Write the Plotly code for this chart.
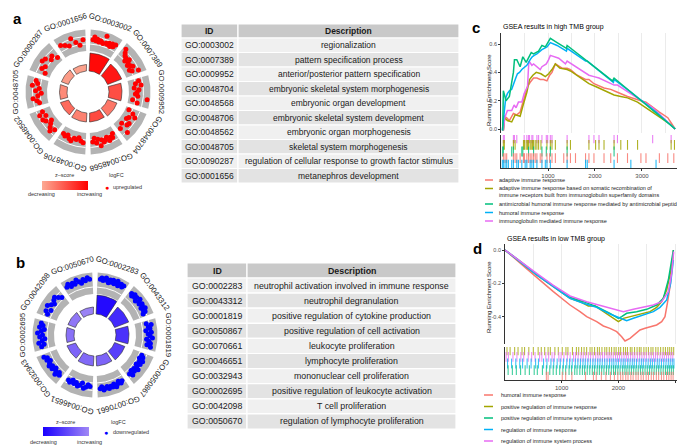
import math
import plotly.graph_objects as go
from plotly.colors import sample_colorscale

W, H = 677, 446
FONT = "Liberation Sans, Arial, Helvetica, sans-serif"

# ---------------- DATA ----------------
a_terms = ["GO:0003002", "GO:0007389", "GO:0009952", "GO:0048704", "GO:0048568",
           "GO:0048706", "GO:0048562", "GO:0048705", "GO:0090287", "GO:0001656"]
a_desc = ["regionalization", "pattern specification process",
          "anterior/posterior pattern specification",
          "embryonic skeletal system morphogenesis", "embryonic organ development",
          "embryonic skeletal system development", "embryonic organ morphogenesis",
          "skeletal system morphogenesis",
          "regulation of cellular response to growth factor stimulus",
          "metanephros development"]
a_count = [36, 30, 26, 20, 18, 18, 17, 15, 15, 13]
a_zscore = [6.0, 5.7, 4.5, 3.6, 4.6, 3.4, 3.9, 3.2, 2.8, 2.7]
a_logfc = [
    [3.2, 4.0, 3.0, 3.5, 2.8, 3.3, 3.0, 2.7, 5.0, 3.1, 2.9, 3.4, 2.6, 3.6, 3.0, 3.8],
    [4.5, 3.6, 3.0, 2.8, 2.0, 3.2, 2.4, 1.8, 2.5, 3.0, 1.6, 2.2, 3.9],
    [3.0, 2.0, 3.5, 1.5, 2.8, 2.3, 1.8, 2.5, 5.2, 1.2, 2.6],
    [1.0, 2.5, 3.5, 2.0, 1.6, 3.0, 2.8, 1.4, 4.3, 2.2],
    [2.0, 3.0, 2.6, 3.4, 2.2, 2.8, 3.2, 2.4, 4.0, 2.0, 3.0, 1.6, 2.6],
    [2.8, 2.4, 1.6, 2.2, 2.0, 3.0, 2.6, 1.8, 2.4, 2.0],
    [2.6, 3.8, 3.0, 2.2, 1.4, 2.8, 3.4, 2.0, 3.6, 2.4],
    [2.4, 3.0, 4.0, 2.6, 1.6, 3.2, 2.2, 4.2, 2.8, 3.4],
    [1.6, 3.0, 2.4, 4.0, 3.6, 2.2, 2.8, 1.4],
    [3.6, 3.0, 2.4, 4.2, 2.8, 1.8, 3.2],
]

b_terms = ["GO:0002283", "GO:0043312", "GO:0001819", "GO:0050867", "GO:0070661",
           "GO:0046651", "GO:0032943", "GO:0002695", "GO:0042098", "GO:0050670"]
b_desc = ["neutrophil activation involved in immune response", "neutrophil degranulation",
          "positive regulation of cytokine production",
          "positive regulation of cell activation", "leukocyte proliferation",
          "lymphocyte proliferation", "mononuclear cell proliferation",
          "positive regulation of leukocyte activation", "T cell proliferation",
          "regulation of lymphocyte proliferation"]
b_count = [38, 30, 26, 22, 20, 20, 18, 16, 16, 14]
b_zscore = [-9.5, -8.0, -7.6, -7.0, -5.2, -5.0, -5.2, -4.6, -4.3, -3.8]
b_logfc = [
    [-4.2, -4.6, -3.9, -4.4, -4.8, -4.1, -3.6, -4.5, -4.0, -4.7, -3.8, -4.3, -4.9, -3.7, -4.2, -4.5, -3.9, -4.4],
    [-4.0, -3.5, -4.4, -3.8, -4.2, -3.3, -4.6, -3.9, -3.6, -4.3, -4.1, -3.4, -4.5, -3.7, -4.0, -3.2],
    [-3.2, -4.5, -3.6, -4.0, -2.8, -4.3, -3.4, -3.9, -4.6, -3.0, -3.7, -4.2, -3.3, -4.4],
    [-2.8, -3.4, -2.5, -3.8, -3.0, -3.6, -2.6, -3.2, -4.0, -2.9, -3.5, -2.7, -3.9, -3.1],
    [-3.4, -3.8, -3.0, -3.6, -4.2, -3.2, -3.9, -3.5, -4.0, -3.3, -3.7, -4.1, -3.1, -3.6],
    [-3.0, -2.6, -3.4, -3.8, -2.4, -3.2, -3.6, -2.8, -3.3, -2.5, -3.5, -3.1],
    [-3.6, -3.0, -4.2, -3.4, -2.8, -3.8, -3.2, -4.0, -3.5, -2.9, -3.7, -3.3, -4.1],
    [-3.8, -3.0, -4.4, -3.4, -2.6, -4.0, -3.2, -4.6, -3.6, -2.8, -4.2, -3.3, -3.9],
    [-3.0, -3.8, -2.6, -4.2, -3.4, -2.8, -3.6, -4.0, -3.2, -2.5],
    [-4.0, -4.6, -3.6, -4.3, -3.8, -4.8, -4.1, -3.5, -4.4, -3.9, -4.7, -4.2],
]

# GSEA high TMB (panel c)
c_names = ["adaptive immune response",
           "adaptive immune response based on somatic recombination of<br>immune receptors built from immunoglobulin superfamily domains",
           "antimicrobial humoral immune response mediated by antimicrobial peptide",
           "humoral immune response",
           "immunoglobulin mediated immune response"]
c_red_x = [50, 79, 121, 178, 264, 336, 407, 464, 514, 564, 621, 693, 764, 835, 907, 978, 1035, 1085, 1157, 1207, 1300, 1407, 1478, 1621, 1799, 1871, 1978, 2192, 2335, 2478, 2692, 2977, 3085, 3370, 3549, 3706]
c_red_y = [-0.01, 0.09, 0.08, 0.06, 0.11, 0.10, 0.12, 0.18, 0.23, 0.30, 0.33, 0.36, 0.36, 0.35, 0.35, 0.34, 0.38, 0.40, 0.46, 0.45, 0.43, 0.43, 0.42, 0.38, 0.35, 0.35, 0.32, 0.29, 0.28, 0.26, 0.23, 0.20, 0.19, 0.12, 0.08, 0.0]
c_olive_x = [50, 79, 136, 228, 300, 407, 464, 500, 550, 607, 678, 750, 850, 943, 1014, 1085, 1157, 1250, 1407, 1478, 1692, 1871, 2013, 2192, 2406, 2549, 2692, 2906, 3620, 3706]
c_olive_y = [-0.01, 0.08, 0.06, 0.05, 0.10, 0.09, 0.16, 0.20, 0.26, 0.35, 0.38, 0.40, 0.39, 0.37, 0.39, 0.42, 0.46, 0.43, 0.42, 0.41, 0.36, 0.32, 0.30, 0.27, 0.24, 0.23, 0.22, 0.19, 0.03, 0.0]
c_green_x = [36, 50, 107, 178, 228, 264, 286, 336, 407, 443, 464, 536, 586, 643, 693, 800, 871, 943, 978, 1050, 1193, 1392, 1407, 2371, 2406, 3706]
c_green_y = [-0.01, 0.27, 0.20, 0.23, 0.33, 0.40, 0.49, 0.49, 0.44, 0.48, 0.51, 0.47, 0.50, 0.54, 0.53, 0.55, 0.59, 0.58, 0.60, 0.64, 0.61, 0.57, 0.59, 0.34, 0.36, 0.0]
c_blue_x = [29, 64, 100, 136, 178, 228, 264, 314, 350, 393, 443, 514, 550, 621, 664, 707, 764, 871, 943, 978, 1050, 1193, 1392, 1407, 1799, 1835, 2392, 2406, 2763, 3299, 3706]
c_blue_y = [-0.01, 0.13, 0.22, 0.25, 0.27, 0.28, 0.32, 0.36, 0.39, 0.40, 0.42, 0.44, 0.45, 0.49, 0.51, 0.52, 0.53, 0.56, 0.57, 0.58, 0.61, 0.59, 0.55, 0.57, 0.48, 0.48, 0.33, 0.35, 0.26, 0.12, 0.0]
c_pink_x = [50, 79, 136, 228, 279, 321, 371, 443, 493, 536, 564, 593, 657, 693, 764, 835, 871, 964, 1014, 1050, 1228, 1371, 1407, 1871, 1978, 2085, 2406, 2478, 3227, 3620, 3706]
c_pink_y = [-0.01, 0.08, 0.13, 0.13, 0.17, 0.15, 0.19, 0.19, 0.25, 0.28, 0.30, 0.48, 0.45, 0.46, 0.44, 0.42, 0.44, 0.46, 0.49, 0.52, 0.50, 0.46, 0.48, 0.38, 0.37, 0.36, 0.31, 0.31, 0.15, 0.03, 0.0]
# hit positions (rug rows, top to bottom: pink, olive, green, red, blue)
c_rug_pink = [50, 71, 264, 286, 336, 493, 550, 586, 607, 657, 678, 764, 800, 871, 964, 993, 1050, 1085, 1407, 1871, 1978, 2085, 2406, 2478, 3227, 3620]
c_rug_olive = [50, 71, 264, 300, 478, 500, 536, 564, 586, 621, 643, 671, 693, 728, 764, 800, 850, 978, 1050, 1085, 1157, 1407, 1478, 1871, 2013, 2085, 2192, 2406, 2549, 2692, 2906, 3620, 3691]
c_rug_green = [36, 50, 228, 264, 443, 464, 586, 693, 871, 964, 1050, 1407, 2406]
c_rug_red = [50, 86, 121, 264, 300, 336, 407, 478, 500, 550, 586, 621, 657, 693, 728, 764, 835, 871, 978, 1035, 1085, 1157, 1335, 1407, 1478, 1585, 1799, 1871, 1978, 2192, 2335, 2478, 2692, 2977, 3085, 3370, 3549, 3677]
c_rug_blue = [29, 50, 86, 121, 157, 228, 264, 336, 371, 443, 514, 550, 621, 657, 693, 764, 871, 943, 978, 1050, 1407, 1799, 1835, 2406, 2763, 3299]

# GSEA low TMB (panel d)
d_names = ["humoral immune response", "positive regulation of immune response",
           "positive regulation of immune system process", "regulation of immune response",
           "regulation of immune system process"]
d_red_x = [0, 265, 559, 853, 1147, 1323, 1441, 1617, 1735, 1852, 1970, 2058, 2117, 2205, 2323, 2381, 2470, 2558, 2675, 2764, 2822, 2864, 2911, 2946, 2970]
d_red_y = [0.0, -0.08, -0.164, -0.25, -0.33, -0.37, -0.40, -0.43, -0.456, -0.47, -0.49, -0.52, -0.546, -0.53, -0.50, -0.48, -0.47, -0.46, -0.45, -0.43, -0.40, -0.32, -0.22, -0.10, 0.0]
d_olive_x = [0, 265, 559, 853, 1147, 1323, 1470, 1588, 1735, 1882, 2000, 2088, 2205, 2381, 2558, 2675, 2764, 2852, 2928, 2970]
d_olive_y = [0.0, -0.07, -0.15, -0.22, -0.29, -0.31, -0.336, -0.336, -0.37, -0.40, -0.43, -0.41, -0.40, -0.384, -0.37, -0.344, -0.31, -0.24, -0.12, -0.02]
d_green_x = [0, 265, 559, 853, 1147, 1382, 1617, 1852, 2000, 2058, 2146, 2323, 2499, 2675, 2793, 2881, 2940, 2970]
d_green_y = [0.0, -0.066, -0.146, -0.216, -0.284, -0.31, -0.34, -0.38, -0.41, -0.40, -0.38, -0.37, -0.356, -0.33, -0.29, -0.18, -0.07, 0.0]
d_blue_x = [0, 265, 559, 853, 1147, 1382, 1617, 1852, 2029, 2146, 2264, 2440, 2617, 2734, 2852, 2922, 2970]
d_blue_y = [0.0, -0.07, -0.15, -0.22, -0.29, -0.32, -0.344, -0.384, -0.41, -0.424, -0.41, -0.39, -0.37, -0.344, -0.30, -0.20, -0.06]
d_pink_x = [0, 265, 559, 853, 1147, 1441, 1735, 1970, 2088, 2264, 2440, 2617, 2764, 2881, 2940, 2975]
d_pink_y = [0.0, -0.064, -0.14, -0.212, -0.276, -0.31, -0.336, -0.36, -0.37, -0.356, -0.344, -0.33, -0.31, -0.25, -0.14, -0.01]
# rug rows, top to bottom: olive, pink, blue, green, red
d_rug_olive = [35, 90, 170, 230, 300, 345, 420, 500, 585, 640, 700, 760, 800, 880, 940, 1010, 1075, 1110, 1190, 1260, 1300, 1350, 1395, 1440, 1500, 1535, 1580, 1630, 1665, 1710, 1760, 1795, 1840, 1880, 1925, 1960, 2005, 2040, 2090, 2125, 2160, 2210, 2240, 2285, 2330, 2370, 2400, 2450, 2490, 2530, 2575, 2610, 2660, 2700, 2745, 2790, 2830, 2870, 2905, 2940, 2975]
d_rug_pink = [20, 60, 140, 210, 280, 330, 410, 470, 530, 610, 650, 720, 770, 830, 870, 950, 990, 1040, 1100, 1150, 1210, 1245, 1290, 1340, 1380, 1425, 1470, 1510, 1555, 1600, 1640, 1680, 1720, 1755, 1800, 1835, 1870, 1910, 1950, 1985, 2020, 2060, 2100, 2140, 2175, 2215, 2255, 2290, 2335, 2375, 2415, 2455, 2495, 2540, 2580, 2620, 2655, 2690, 2735, 2775, 2810, 2850, 2885, 2925, 2960]
d_rug_blue = [45, 115, 190, 260, 310, 390, 460, 540, 590, 680, 740, 810, 860, 920, 975, 1030, 1090, 1140, 1185, 1240, 1285, 1330, 1375, 1415, 1460, 1505, 1550, 1590, 1635, 1675, 1715, 1760, 1800, 1845, 1885, 1920, 1960, 2000, 2045, 2085, 2120, 2165, 2205, 2245, 2280, 2320, 2365, 2405, 2440, 2485, 2525, 2565, 2600, 2640, 2685, 2720, 2760, 2800, 2840, 2880, 2915, 2950, 2980]
d_rug_green = [55, 130, 200, 275, 355, 430, 515, 570, 660, 730, 790, 850, 905, 965, 1020, 1070, 1130, 1175, 1230, 1270, 1320, 1365, 1405, 1450, 1495, 1540, 1580, 1625, 1665, 1705, 1745, 1790, 1830, 1875, 1915, 1950, 1990, 2030, 2075, 2115, 2150, 2190, 2230, 2270, 2310, 2350, 2390, 2430, 2470, 2510, 2550, 2590, 2630, 2670, 2710, 2750, 2790, 2830, 2865, 2900, 2935, 2970]
d_rug_red = [730, 760, 1010, 1070, 1180, 1420, 1560, 1610, 1700, 1780, 1860, 1930, 1990, 2040, 2080, 2130, 2170, 2220, 2260, 2310, 2350, 2400, 2440, 2490, 2530, 2580, 2620, 2670, 2710, 2760, 2800, 2850, 2890, 2930, 2965]

C_RED, C_OLIVE, C_GREEN, C_BLUE, C_PINK = "#F8766D", "#A3A500", "#00BF7D", "#00B0F6", "#E76BF3"

# ---------------- helpers ----------------
def fx(px):
    return min(max(px / W, 0.0), 1.0)

def fy(py):
    return min(max(1 - py / H, 0.0), 1.0)

fig = go.Figure()
annotations = []
shapes = []

R_MAX = 66.0
RING_IN, RING_OUT = 41.0, 62.5
INNER_BASE = 21.0
LABEL_R = 73.5
LFC_SCALE = (RING_OUT - RING_IN) / 6.0


def text_at(px, py, txt, size, anchor="left", bold=False, angle=0, color="#111"):
    annotations.append(dict(x=px / W, y=1 - py / H, xref="paper", yref="paper",
                            text=("<b>%s</b>" % txt) if bold else txt, textangle=angle,
                            showarrow=False, xanchor=anchor, yanchor="middle", borderpad=0,
                            align="left" if anchor == "left" else "center",
                            font=dict(size=size, color=color, family=FONT)))


def wedge(t0, t1, r0, r1):
    xs, ys = [], []
    for k in range(21):
        t = math.radians(t0 + (t1 - t0) * k / 20)
        xs.append(r1 * math.sin(t)); ys.append(r1 * math.cos(t))
    for k in range(21):
        t = math.radians(t1 - (t1 - t0) * k / 20)
        xs.append(r0 * math.sin(t)); ys.append(r0 * math.cos(t))
    xs.append(xs[0]); ys.append(ys[0])
    return xs, ys


def circle_panel(ax, cx, cy, terms, counts, zs, lfcs, dot_color, cscale, cmin, cmax, cb_px, cb_py):
    xa, ya = "x" + ax, "y" + ax
    n = len(terms)
    step = 360.0 / n
    thetas = [step / 2 + step * i for i in range(n)]
    for t in thetas:
        xs, ys = wedge(t - 15.5, t + 15.5, RING_IN, RING_OUT)
        fig.add_trace(go.Scatter(x=xs, y=ys, mode="lines", fill="toself", fillcolor="#B3B3B3",
                                 line=dict(width=0, color="#B3B3B3"), xaxis=xa, yaxis=ya,
                                 hoverinfo="skip"))
    gx, gy = [], []
    for t in thetas:
        for rr in (48.0, 55.5):
            for k in range(32):
                a = math.radians(t - 15.5 + k)
                gx.append(rr * math.sin(a)); gy.append(rr * math.cos(a))
            gx.append(None); gy.append(None)
    fig.add_trace(go.Scatter(x=gx, y=gy, mode="lines", line=dict(color="white", width=1),
                             xaxis=xa, yaxis=ya, hoverinfo="skip"))
    dx, dy = [], []
    for t, vals in zip(thetas, lfcs):
        m = len(vals)
        for j, v in enumerate(vals):
            a = math.radians(t - 12.5 + 25.0 * j / (m - 1))
            rr = RING_IN + abs(v) * LFC_SCALE
            dx.append(rr * math.sin(a)); dy.append(rr * math.cos(a))
    fig.add_trace(go.Scatter(x=dx, y=dy, mode="markers", xaxis=xa, yaxis=ya, hoverinfo="skip",
                             marker=dict(color=dot_color, size=5, line=dict(width=0))))
    mid_r = [INNER_BASE + c * 0.25 for c in counts]
    fig.add_trace(go.Scatter(
        x=[r * math.sin(math.radians(t)) for r, t in zip(mid_r, thetas)],
        y=[r * math.cos(math.radians(t)) for r, t in zip(mid_r, thetas)],
        mode="markers", xaxis=xa, yaxis=ya, hoverinfo="skip",
        marker=dict(size=1, color=zs, colorscale=cscale, cmin=cmin, cmax=cmax, showscale=True,
                    colorbar=dict(orientation="h", x=fx(cb_px), xanchor="left", y=fy(cb_py),
                                  yanchor="top", len=46, lenmode="pixels", thickness=9,
                                  thicknessmode="pixels", outlinewidth=0, showticklabels=False,
                                  ticks="", xpad=0, ypad=0, title=dict(text="")))))
    cols = sample_colorscale(cscale, [(z - cmin) / (cmax - cmin) for z in zs])
    for t, c, col in zip(thetas, counts, cols):
        xs, ys = wedge(t - 15, t + 15, INNER_BASE, INNER_BASE + c * 0.5)
        fig.add_trace(go.Scatter(x=xs, y=ys, mode="lines", fill="toself", fillcolor=col,
                                 line=dict(width=0.6, color="#2a2a2a"), xaxis=xa, yaxis=ya,
                                 hoverinfo="skip"))
    fig.update_layout(**{
        "xaxis" + ax: dict(domain=[fx(cx - R_MAX), fx(cx + R_MAX)], range=[-R_MAX, R_MAX],
                           visible=False, anchor="y" + ax),
        "yaxis" + ax: dict(domain=[fy(cy + R_MAX), fy(cy - R_MAX)], range=[-R_MAX, R_MAX],
                           visible=False, anchor="x" + ax)})
    for t, term in zip(thetas, terms):
        rad = math.radians(t)
        px = cx + LABEL_R * math.sin(rad)
        py = cy - LABEL_R * math.cos(rad)
        ang = t if t <= 180 else t - 360
        text_at(px, py, term, 7.8, "center", angle=ang, color="#222")


circle_panel("5", 88, 92, a_terms, a_count, a_zscore, a_logfc, "#FF0000",
             [[0, "#FCAA94"], [1, "#FF0000"]], 2.5, 6.2, 42, 181)
circle_panel("6", 95, 335, b_terms, b_count, b_zscore, b_logfc, "#0000FF",
             [[0, "#1A00FF"], [1, "#A088F5"]], -10, -3.5, 43, 427)

text_at(64, 175, "z\u2013score", 5.5, "center", color="#333")
text_at(41, 194, "decreasing", 5.5, "center", color="#333")
text_at(89, 194, "increasing", 5.5, "center", color="#333")
text_at(117, 175, "logFC", 5.5, "center", color="#333")
text_at(107, 187, "\u25CF", 7, "center", color="#FF0000")
text_at(112, 187, "upregulated", 5.5, "left", color="#333")

text_at(65, 422, "z\u2013score", 5.5, "center", color="#333")
text_at(43, 442, "decreasing", 5.5, "center", color="#333")
text_at(89, 442, "increasing", 5.5, "center", color="#333")
text_at(118, 422, "logFC", 5.5, "center", color="#333")
text_at(106, 432, "\u25CF", 7, "center", color="#0000FF")
text_at(112, 432, "downregulated", 5.5, "left", color="#333")

# ---------------- tables (drawn as cells + text) ----------------
def add_table(x0, x1, ytop, idw, hh, ch, ids, descs, fs):
    xm = x0 + idw
    def cell(cx0, cx1, cy0, cy1, fill):
        shapes.append(dict(type="rect", xref="paper", yref="paper", x0=fx(cx0), x1=fx(cx1),
                           y0=fy(cy1), y1=fy(cy0), fillcolor=fill, line=dict(color="white", width=1.2),
                           layer="below"))
    cell(x0, xm, ytop, ytop + hh, "#C9C9C9")
    cell(xm, x1, ytop, ytop + hh, "#C9C9C9")
    text_at((x0 + xm) / 2, ytop + hh / 2, "ID", fs, "center", bold=True, color="#1a1a1a")
    text_at((xm + x1) / 2, ytop + hh / 2, "Description", fs, "center", bold=True, color="#1a1a1a")
    for i, (gid, desc) in enumerate(zip(ids, descs)):
        r0 = ytop + hh + ch * i
        fill = "#F0F0F0" if i % 2 == 0 else "#E3E3E3"
        cell(x0, xm, r0, r0 + ch, fill)
        cell(xm, x1, r0, r0 + ch, fill)
        text_at((x0 + xm) / 2, r0 + ch / 2, gid, fs, "center", color="#1a1a1a")
        text_at((xm + x1) / 2, r0 + ch / 2, desc, fs, "center", color="#1a1a1a")

add_table(181, 459, 24, 57, 14, 14.5, a_terms, a_desc, 8.5)
add_table(187, 456, 263, 60, 15, 15.1, b_terms, b_desc, 8.8)

# ---------------- GSEA panels ----------------
def curve(x, y, col, xa, ya):
    fig.add_trace(go.Scatter(x=x, y=y, mode="lines", line=dict(color=col, width=1.5),
                             xaxis=xa, yaxis=ya, hoverinfo="skip"))

def rug(rows, xa, ya, opacity):
    for i, (vals, col) in enumerate(rows):
        fig.add_trace(go.Scatter(x=vals, y=[i] * len(vals), mode="markers", xaxis=xa, yaxis=ya,
                                 opacity=opacity,
                                 marker=dict(symbol="line-ns", size=7, line=dict(width=1.1, color=col)),
                                 hoverinfo="skip"))

curve(c_red_x, c_red_y, C_RED, "x", "y")
curve(c_olive_x, c_olive_y, C_OLIVE, "x", "y")
curve(c_pink_x, c_pink_y, C_PINK, "x", "y")
curve(c_blue_x, c_blue_y, C_BLUE, "x", "y")
curve(c_green_x, c_green_y, C_GREEN, "x", "y")
rug([(c_rug_pink, C_PINK), (c_rug_olive, C_OLIVE), (c_rug_green, C_GREEN),
     (c_rug_red, C_RED), (c_rug_blue, C_BLUE)], "x2", "y2", 0.85)

curve(d_red_x, d_red_y, C_RED, "x3", "y3")
curve(d_olive_x, d_olive_y, C_OLIVE, "x3", "y3")
curve(d_green_x, d_green_y, C_GREEN, "x3", "y3")
curve(d_blue_x, d_blue_y, C_BLUE, "x3", "y3")
curve(d_pink_x, d_pink_y, C_PINK, "x3", "y3")
rug([(d_rug_olive, C_OLIVE), (d_rug_pink, C_PINK), (d_rug_blue, C_BLUE),
     (d_rug_green, C_GREEN), (d_rug_red, C_RED)], "x4", "y4", 0.75)

tickfont = dict(size=5.5, color="#4D4D4D", family=FONT)
c_xr = [0, 3745]
d_xr = [0, 3034]

def top_x(dom, rng, anchor):
    return dict(domain=dom, range=rng, anchor=anchor, showticklabels=False, ticks="",
                showgrid=True, gridcolor="#EBEBEB", gridwidth=0.8, dtick=500, tick0=0,
                zeroline=False, showline=False)

def top_y(dom, rng, anchor, tv, tt):
    return dict(domain=dom, range=rng, anchor=anchor, tickvals=tv, ticktext=tt, tickfont=tickfont,
                ticks="outside", ticklen=2, tickcolor="#333", showgrid=False, zeroline=False,
                showline=True, linecolor="#333", linewidth=0.8)

def rug_x(dom, rng, anchor):
    return dict(domain=dom, range=rng, anchor=anchor, tickvals=[1000, 2000, 3000],
                ticktext=["1000", "2000", "3000"], tickfont=dict(size=6, color="#4D4D4D", family=FONT),
                ticks="outside", ticklen=2, tickcolor="#333", showgrid=False, zeroline=False,
                showline=True, linecolor="#333", linewidth=0.8)

def rug_y(dom, anchor):
    return dict(domain=dom, range=[4.5, -0.5], anchor=anchor, showticklabels=False, ticks="",
                showgrid=False, zeroline=False, showline=True, linecolor="#333", linewidth=0.8)

fig.update_layout(
    xaxis=top_x([fx(501), 1.0], c_xr, "y"),
    yaxis=top_y([fy(133), fy(33)], [-0.028, 0.678], "x", [0, 0.2, 0.4, 0.6],
                ["0.0", "0.2", "0.4", "0.6"]),
    xaxis2=rug_x([fx(501), 1.0], c_xr, "y2"),
    yaxis2=rug_y([fy(168), fy(135)], "x2"),
    xaxis3=top_x([fx(505), 1.0], d_xr, "y3"),
    yaxis3=top_y([fy(344), fy(244)], [-0.564, 0.036], "x3", [0, -0.2, -0.4],
                 ["0.0", "-0.2", "-0.4"]),
    xaxis4=rug_x([fx(505), 1.0], d_xr, "y4"),
    yaxis4=rug_y([fy(380), fy(347)], "x4"),
)

text_at(17, 18, "a", 15, "center", bold=True, color="black")
text_at(20, 262, "b", 15, "center", bold=True, color="black")
text_at(476, 28, "c", 15, "center", bold=True, color="black")
text_at(477, 248, "d", 15, "center", bold=True, color="black")
text_at(502, 27, "GSEA results in high TMB group", 7, color="#000000")
text_at(506, 239, "GSEA results in low TMB group", 7, color="#000000")
text_at(489, 90, "Running Enrichment Score", 6, "center", angle=-90)
text_at(489, 297, "Running Enrichment Score", 6, "center", angle=-90)

c_colors = [C_RED, C_OLIVE, C_GREEN, C_BLUE, C_PINK]
c_leg_y = [180, 188.5, 204, 212.5, 221]
c_txt_y = [180, 191.5, 204, 212.5, 221]
for py, ty, col, name in zip(c_leg_y, c_txt_y, c_colors, c_names):
    shapes.append(dict(type="line", xref="paper", yref="paper", x0=fx(485), x1=fx(493),
                       y0=fy(py), y1=fy(py), line=dict(color=col, width=1.5)))
    text_at(498, ty, name, 5.5, color="#222")

d_leg_y = [395, 406.5, 418, 429.5, 441]
for py, col, name in zip(d_leg_y, c_colors, d_names):
    shapes.append(dict(type="line", xref="paper", yref="paper", x0=fx(484), x1=fx(493),
                       y0=fy(py), y1=fy(py), line=dict(color=col, width=1.5)))
    text_at(500, py, name, 5.5, color="#222")

fig.update_layout(width=W, height=H, margin=dict(l=0, r=0, t=0, b=0),
                  paper_bgcolor="white", plot_bgcolor="white", showlegend=False,
                  annotations=annotations, shapes=shapes, font=dict(family=FONT))

fig.write_html("out.html", config={"displayModeBar": False},
               post_script="document.body.style.margin='0px';document.body.style.overflow='hidden';")
